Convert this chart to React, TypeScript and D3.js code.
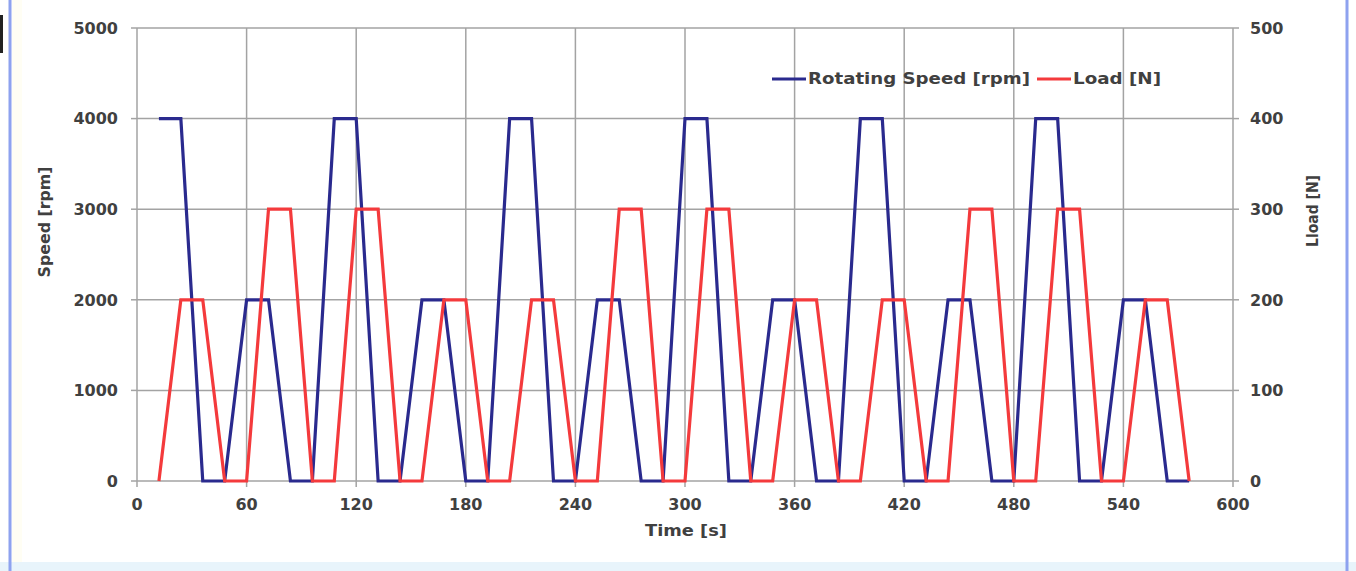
import React from "react";
import * as d3 from "d3";

const speedTime = [12, 24, 36, 48, 60, 72, 84, 96, 108, 120, 132, 144, 156, 168, 180, 192, 204, 216, 228, 240, 252, 264, 276, 288, 300, 312, 324, 336, 348, 360, 372, 384, 396, 408, 420, 432, 444, 456, 468, 480, 492, 504, 516, 528, 540, 552, 564, 576];
const speedValues = [4000, 4000, 0, 0, 2000, 2000, 0, 0, 4000, 4000, 0, 0, 2000, 2000, 0, 0, 4000, 4000, 0, 0, 2000, 2000, 0, 0, 4000, 4000, 0, 0, 2000, 2000, 0, 0, 4000, 4000, 0, 0, 2000, 2000, 0, 0, 4000, 4000, 0, 0, 2000, 2000, 0, 0];
const loadTime = [12, 24, 36, 48, 60, 72, 84, 96, 108, 120, 132, 144, 156, 168, 180, 192, 204, 216, 228, 240, 252, 264, 276, 288, 300, 312, 324, 336, 348, 360, 372, 384, 396, 408, 420, 432, 444, 456, 468, 480, 492, 504, 516, 528, 540, 552, 564, 576];
const loadValues = [0, 200, 200, 0, 0, 300, 300, 0, 0, 300, 300, 0, 0, 200, 200, 0, 0, 200, 200, 0, 0, 300, 300, 0, 0, 300, 300, 0, 0, 200, 200, 0, 0, 200, 200, 0, 0, 300, 300, 0, 0, 300, 300, 0, 0, 200, 200, 0];

const xTicks = [0, 60, 120, 180, 240, 300, 360, 420, 480, 540, 600];
const speedTicks = [0, 1000, 2000, 3000, 4000, 5000];
const loadTicks = [0, 100, 200, 300, 400, 500];

const seriesNames = ["Rotating Speed [rpm]", "Load [N]"];
const xTitle = "Time [s]";
const yLeftTitle = "Speed [rpm]";
const yRightTitle = "Lload [N]";

const W = 1356;
const H = 571;
const left = 137;
const right = 1233;
const top = 28;
const bottom = 481;

const BLUE = "#2a2a8e";
const RED = "#f43a3c";
const TEXT = "#404040";
const GRID = "#a3a3a3";
const FONT = "'DejaVu Sans', Arial, sans-serif";

export default function App() {
  const x = d3.scaleLinear().domain([0, 600]).range([left, right]);
  const yL = d3.scaleLinear().domain([0, 5000]).range([bottom, top]);
  const yR = d3.scaleLinear().domain([0, 500]).range([bottom, top]);

  const speedLine = d3
    .line<number>()
    .x((_, i) => x(speedTime[i]))
    .y((d) => yL(d));
  const loadLine = d3
    .line<number>()
    .x((_, i) => x(loadTime[i]))
    .y((d) => yR(d));

  return (
    <svg
      width={W}
      height={H}
      style={{ position: "absolute", left: 0, top: 0, display: "block" }}
      fontFamily={FONT}
    >
      <rect x={0} y={0} width={W} height={H} fill="#ffffff" />
      <rect x={0} y={562} width={W} height={H - 562} fill="#e8f4fb" />
      <rect x={12} y={0} width={10} height={562} fill="#fffdf0" opacity={0.7} />
      <line x1={10} x2={10} y1={0} y2={H} stroke="#8ea2ef" strokeWidth={3} />
      <line x1={1347} x2={1347} y1={0} y2={H} stroke="#8ea2ef" strokeWidth={3} />
      <rect x={0} y={15} width={3} height={38} fill="#222" />

      {/* grid */}
      {xTicks.map((t) => (
        <line key={"gx" + t} x1={x(t)} x2={x(t)} y1={top} y2={bottom} stroke={GRID} strokeWidth={1.5} />
      ))}
      {speedTicks.map((t) => (
        <line key={"gy" + t} x1={left} x2={right} y1={yL(t)} y2={yL(t)} stroke={GRID} strokeWidth={1.5} />
      ))}
      {/* tick marks */}
      {speedTicks.map((t) => (
        <line key={"tl" + t} x1={left - 6} x2={left} y1={yL(t)} y2={yL(t)} stroke={GRID} strokeWidth={1.5} />
      ))}
      {loadTicks.map((t) => (
        <line key={"tr" + t} x1={right} x2={right + 6} y1={yR(t)} y2={yR(t)} stroke={GRID} strokeWidth={1.5} />
      ))}
      {xTicks.map((t) => (
        <line key={"tb" + t} x1={x(t)} x2={x(t)} y1={bottom} y2={bottom + 6} stroke={GRID} strokeWidth={1.5} />
      ))}

      {/* series */}
      <path d={speedLine(speedValues) || ""} fill="none" stroke={BLUE} strokeWidth={3.2} strokeLinejoin="miter" />
      <path d={loadLine(loadValues) || ""} fill="none" stroke={RED} strokeWidth={3.2} strokeLinejoin="miter" />

      {/* tick labels */}
      {speedTicks.map((t) => (
        <text key={"ll" + t} x={118} y={yL(t)} dy="0.36em" textAnchor="end" fontSize={16} fontWeight="bold" fill={TEXT}>
          {t}
        </text>
      ))}
      {loadTicks.map((t) => (
        <text key={"rl" + t} x={1250} y={yR(t)} dy="0.36em" textAnchor="start" fontSize={16} fontWeight="bold" fill={TEXT}>
          {t}
        </text>
      ))}
      {xTicks.map((t) => (
        <text key={"bl" + t} x={x(t)} y={510} textAnchor="middle" fontSize={16} fontWeight="bold" fill={TEXT}>
          {t}
        </text>
      ))}

      {/* axis titles */}
      <text x={686} y={536} textAnchor="middle" fontSize={16} fontWeight="bold" fill={TEXT} textLength={82} lengthAdjust="spacingAndGlyphs">
        {xTitle}
      </text>
      <text
        transform="translate(50,222) rotate(-90)"
        textAnchor="middle"
        fontSize={15}
        fontWeight="bold"
        fill={TEXT}
        textLength={111}
        lengthAdjust="spacingAndGlyphs"
      >
        {yLeftTitle}
      </text>
      <text
        transform="translate(1318,211) rotate(-90)"
        textAnchor="middle"
        fontSize={15}
        fontWeight="bold"
        fill={TEXT}
        textLength={72}
        lengthAdjust="spacingAndGlyphs"
      >
        {yRightTitle}
      </text>

      {/* legend */}
      <line x1={772} x2={806} y1={79} y2={79} stroke={BLUE} strokeWidth={3} />
      <text x={808} y={84} fontSize={15} fontWeight="bold" fill={TEXT} textLength={222} lengthAdjust="spacingAndGlyphs">
        {seriesNames[0]}
      </text>
      <line x1={1037} x2={1071} y1={79} y2={79} stroke={RED} strokeWidth={3} />
      <text x={1073} y={84} fontSize={15} fontWeight="bold" fill={TEXT} textLength={88} lengthAdjust="spacingAndGlyphs">
        {seriesNames[1]}
      </text>
    </svg>
  );
}
